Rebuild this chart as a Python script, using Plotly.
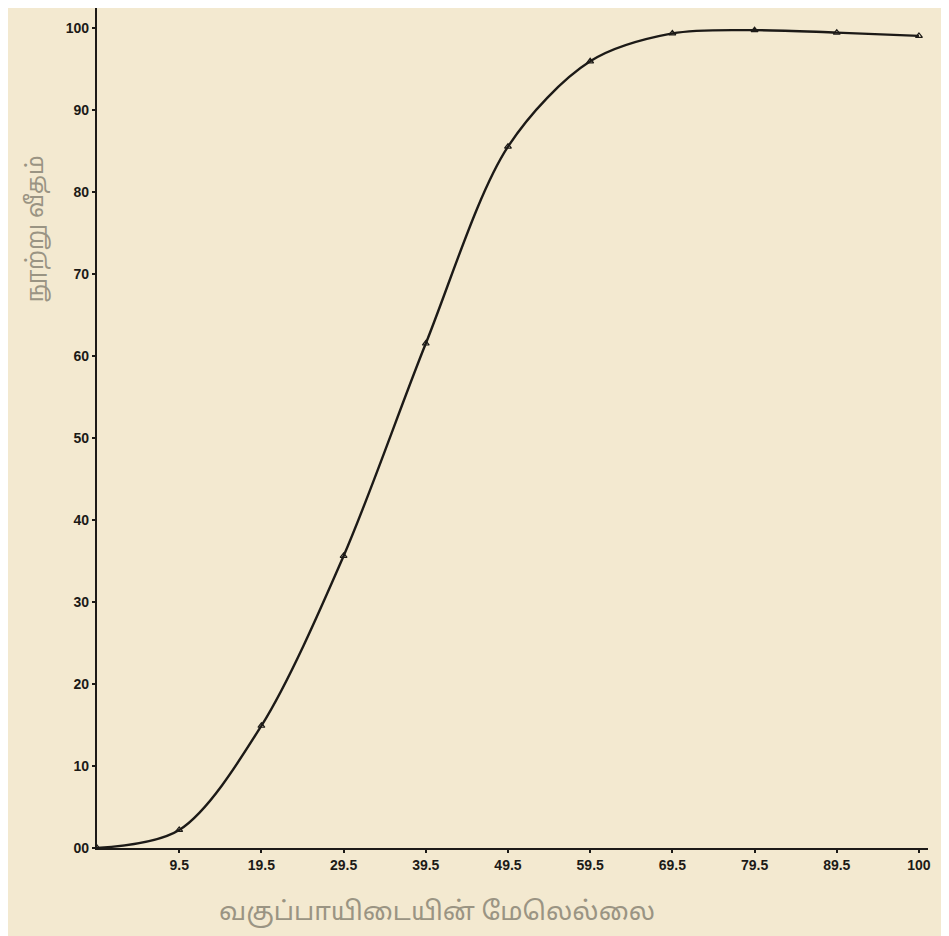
import plotly.graph_objects as go

# Data (ogive: upper class limit vs cumulative percent)
upper_limits = [-0.5, 9.5, 19.5, 29.5, 39.5, 49.5, 59.5, 69.5, 79.5, 89.5, 99.5]
cum_percent = [0, 2.2, 14.9, 35.6, 61.5, 85.5, 95.9, 99.3, 99.7, 99.4, 99.0]

x_tick_vals = [9.5, 19.5, 29.5, 39.5, 49.5, 59.5, 69.5, 79.5, 89.5, 99.5]
x_tick_text = ["9.5", "19.5", "29.5", "39.5", "49.5", "59.5", "69.5", "79.5", "89.5", "100"]
y_tick_vals = [0, 10, 20, 30, 40, 50, 60, 70, 80, 90, 100]
y_tick_text = ["00", "10", "20", "30", "40", "50", "60", "70", "80", "90", "100"]

x_title = "வகுப்பாயிடையின் மேலெல்லை"
y_title = "நூற்று வீதம்"

paper = "#f3e9d0"
ink = "#1c1a17"

fig = go.Figure()
fig.add_trace(go.Scatter(
    x=upper_limits, y=cum_percent,
    mode="lines+markers",
    line=dict(color=ink, width=2.4, shape="spline", smoothing=0.9),
    marker=dict(symbol="triangle-up-open", size=6, color=ink, line=dict(width=1.2)),
    showlegend=False,
))

tickfont = dict(family="Liberation Sans, DejaVu Sans", size=14, color=ink, weight="bold")

fig.update_layout(
    width=949, height=936,
    paper_bgcolor=paper, plot_bgcolor=paper,
    margin=dict(l=89, r=29, t=0, b=96),
    xaxis=dict(
        range=[-0.5, 100.6], showgrid=False, zeroline=False,
        showline=True, linecolor=ink, linewidth=2.2,
        tickvals=x_tick_vals, ticktext=x_tick_text,
        ticks="outside", ticklen=3, tickcolor=ink, tickwidth=2,
        tickfont=tickfont,
    ),
    yaxis=dict(
        range=[0, 102.4], showgrid=False, zeroline=False,
        showline=True, linecolor=ink, linewidth=2.2,
        tickvals=y_tick_vals, ticktext=y_tick_text,
        ticks="outside", ticklen=3, tickcolor=ink, tickwidth=2,
        tickfont=tickfont,
    ),
    annotations=[
        dict(text=x_title, xref="x", x=40.9, yref="paper", y=-0.074,
             showarrow=False, xanchor="center", yanchor="middle",
             font=dict(family="Noto Sans, Noto Sans Tamil, Lato", size=26, color="#9a9483")),
        dict(text=y_title, xref="paper", x=-0.075, yref="y", y=75.5,
             textangle=-90, showarrow=False, xanchor="center", yanchor="middle",
             font=dict(family="Noto Sans, Noto Sans Tamil, Lato", size=23, color="#9a9483")),
    ],
)

fig.write_html("out.html")
